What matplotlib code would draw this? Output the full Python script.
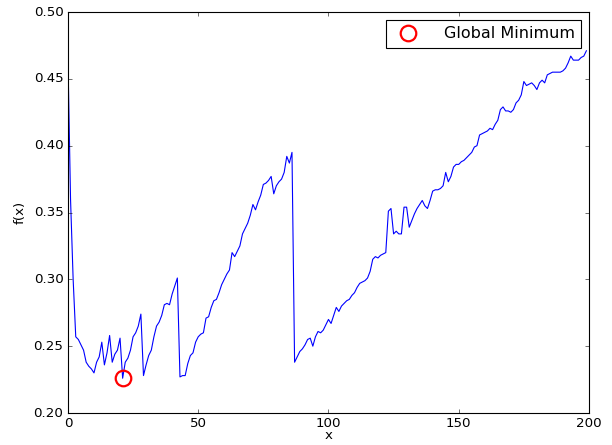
import numpy as np
import matplotlib
matplotlib.use('Agg')
import matplotlib.pyplot as plt

plt.style.use('classic')

# f(x) 的采样值，x = 0..199
fx_values = [
    0.466, 0.360, 0.300, 0.257, 0.255, 0.251, 0.247, 0.238, 0.235, 0.233,
    0.230, 0.238, 0.242, 0.253, 0.236, 0.245, 0.258, 0.238, 0.244, 0.247,
    0.256, 0.226, 0.238, 0.241, 0.247, 0.257, 0.260, 0.265, 0.274, 0.228,
    0.236, 0.243, 0.247, 0.257, 0.265, 0.268, 0.273, 0.281, 0.282, 0.281,
    0.289, 0.295, 0.301, 0.227, 0.228, 0.228, 0.237, 0.243, 0.245, 0.253,
    0.257, 0.259, 0.260, 0.271, 0.272, 0.279, 0.284, 0.285, 0.290, 0.296,
    0.300, 0.304, 0.307, 0.320, 0.317, 0.321, 0.325, 0.334, 0.338, 0.342,
    0.348, 0.356, 0.352, 0.358, 0.363, 0.371, 0.372, 0.374, 0.377, 0.364,
    0.370, 0.373, 0.375, 0.380, 0.392, 0.387, 0.395, 0.238, 0.242, 0.246,
    0.248, 0.251, 0.255, 0.256, 0.250, 0.257, 0.261, 0.260, 0.262, 0.266,
    0.270, 0.267, 0.273, 0.279, 0.276, 0.280, 0.282, 0.284, 0.285, 0.288,
    0.290, 0.294, 0.297, 0.298, 0.299, 0.301, 0.306, 0.315, 0.317, 0.316,
    0.318, 0.319, 0.320, 0.351, 0.353, 0.334, 0.336, 0.334, 0.334, 0.354,
    0.354, 0.339, 0.344, 0.349, 0.353, 0.356, 0.359, 0.355, 0.353, 0.359,
    0.366, 0.367, 0.367, 0.368, 0.370, 0.380, 0.373, 0.377, 0.384, 0.386,
    0.386, 0.388, 0.389, 0.391, 0.393, 0.395, 0.399, 0.400, 0.408, 0.409,
    0.410, 0.411, 0.413, 0.412, 0.416, 0.419, 0.427, 0.429, 0.426, 0.426,
    0.425, 0.427, 0.432, 0.434, 0.438, 0.448, 0.445, 0.446, 0.447, 0.445,
    0.442, 0.447, 0.449, 0.447, 0.453, 0.454, 0.455, 0.455, 0.455, 0.455,
    0.456, 0.458, 0.462, 0.467, 0.464, 0.464, 0.464, 0.466, 0.467, 0.471,
]
x_values = np.arange(len(fx_values))
legend_label = 'Global Minimum'

fx = np.array(fx_values)
i_min = int(np.argmin(fx))

fig = plt.figure(figsize=(612 / 80, 445 / 80), dpi=80, facecolor='white')
fig.subplots_adjust(left=0.111, right=0.9624, bottom=0.0719, top=0.973)
ax = fig.add_subplot(111)

ax.plot(x_values, fx, color='b', linewidth=1.0)
ax.plot(x_values[i_min], fx[i_min], 'o', markersize=14, markerfacecolor='none',
        markeredgecolor='r', markeredgewidth=2.0, label=legend_label)

ax.set_xlim(0, 200)
ax.set_ylim(0.20, 0.50)
ax.set_xlabel('x', labelpad=-1)
ax.set_ylabel('f(x)', labelpad=6)
ax.legend(loc='upper right', numpoints=1, handletextpad=1.2)

fig.savefig('out.png', dpi=80, facecolor='white')
